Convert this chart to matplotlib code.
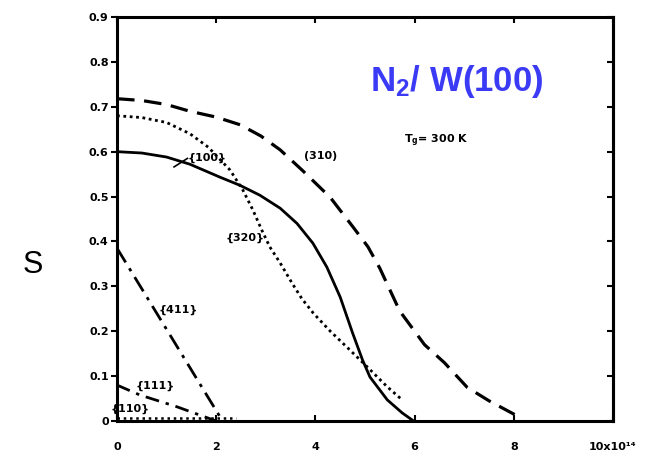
import matplotlib
matplotlib.use("Agg")
import matplotlib.pyplot as plt

plt.rcParams["mathtext.fontset"] = "custom"
plt.rcParams["mathtext.rm"] = "Liberation Sans:bold"
plt.rcParams["mathtext.default"] = "regular"

# Sticking coefficient S versus coverage for N2 on W(100) planes
x_100 = [0, 0.5, 1.0, 1.47, 2.08, 2.48, 2.88, 3.29, 3.63, 3.95, 4.23, 4.5, 4.75, 4.95, 5.1, 5.45, 5.75, 5.98]
s_100 = [0.600, 0.597, 0.588, 0.572, 0.543, 0.525, 0.503, 0.474, 0.44, 0.396, 0.343, 0.276, 0.196, 0.136, 0.098, 0.047, 0.018, 0.0]

x_310 = [0, 0.5, 1.0, 1.47, 2.0, 2.48, 2.9, 3.29, 3.75, 4.3, 4.76, 5.06, 5.3, 5.7, 6.2, 6.6, 7.06, 7.5, 8.04]
s_310 = [0.718, 0.714, 0.705, 0.69, 0.677, 0.66, 0.635, 0.604, 0.557, 0.498, 0.432, 0.388, 0.34, 0.245, 0.17, 0.13, 0.075, 0.045, 0.013]

x_320 = [0, 0.5, 1.0, 1.47, 1.84, 2.28, 2.54, 2.74, 2.92, 3.08, 3.29, 3.53, 3.73, 3.96, 4.3, 4.65, 5.05, 5.45, 5.75]
s_320 = [0.68, 0.676, 0.665, 0.64, 0.61, 0.559, 0.514, 0.47, 0.425, 0.388, 0.352, 0.307, 0.272, 0.24, 0.2, 0.163, 0.12, 0.076, 0.047]

x_411 = [0, 2.1]
s_411 = [0.385, 0.005]

x_111 = [0, 0.46, 1.2, 2.0]
s_111 = [0.08, 0.058, 0.032, 0.0]

x_110 = [0, 2.4]
s_110 = [0.007, 0.007]

x_ticks = [0, 2, 4, 6, 8, 10]
x_ticklabels = ["0", "2", "4", "6", "8", "10x10¹⁴"]
y_ticks = [0, 0.1, 0.2, 0.3, 0.4, 0.5, 0.6, 0.7, 0.8, 0.9]
y_ticklabels = ["0", "0.1", "0.2", "0.3", "0.4", "0.5", "0.6", "0.7", "0.8", "0.9"]

fig = plt.figure(figsize=(6.56, 4.58), dpi=100)
ax = fig.add_axes([117 / 656, 1 - 421 / 458, (613 - 117) / 656, (421 - 17) / 458])

ax.plot(x_100, s_100, color="black", lw=2.0, solid_capstyle="round", solid_joinstyle="round")
ax.plot(x_310, s_310, color="black", lw=2.3, linestyle=(0, (5.5, 3)))
ax.plot(x_320, s_320, color="black", lw=2.0, linestyle=(0, (1, 1.3)))
ax.plot(x_411, s_411, color="black", lw=2.0, linestyle=(0, (6, 2.5, 1.2, 2.5)))
ax.plot(x_111, s_111, color="black", lw=2.0, linestyle=(0, (5, 2.5, 1.2, 2.5)))
ax.plot(x_110, s_110, color="black", lw=1.8, linestyle=(0, (1, 1.5)))

# leader from the {100} label to its curve
ax.plot([1.15, 1.42], [0.566, 0.585], color="black", lw=1.2)

lab = dict(fontsize=8, fontweight="bold", color="black", ha="center", va="center")
ax.text(1.82, 0.587, "{100}", **lab)
ax.text(4.1, 0.59, "(310)", **lab)
ax.text(2.59, 0.407, "{320}", **lab)
ax.text(1.23, 0.247, "{411}", **lab)
ax.text(0.77, 0.078, "{111}", **lab)
ax.text(0.26, 0.026, "{110}", **lab)
ax.text(5.78, 0.625, "T$_g$= 300 K", fontsize=8, fontweight="bold", ha="left", va="center")

ax.text(6.85, 0.757, "N$_2$/ W(100)", fontsize=25, fontweight="bold",
        color="#3b3bf5", ha="center", va="center", family="Liberation Sans")
fig.text(33 / 656, 1 - 265 / 458, "S", fontsize=22, ha="center", va="center",
         family="Liberation Sans")

ax.set_xlim(0, 10)
ax.set_ylim(0, 0.9)
ax.set_xticks(x_ticks)
ax.set_xticklabels(x_ticklabels, fontsize=8, fontweight="bold")
ax.set_yticks(y_ticks)
ax.set_yticklabels(y_ticklabels, fontsize=8, fontweight="bold")
ax.tick_params(axis="y", direction="out", length=4, width=1.5, left=True, right=False, pad=2)
ax.tick_params(axis="x", direction="in", length=4, width=1.5, top=True, bottom=True, pad=15)

# inward ticks on the right-hand frame edge
right = ax.secondary_yaxis("right")
right.set_yticks(y_ticks)
right.tick_params(direction="in", length=4, width=1.5, labelright=False)
right.spines["right"].set_linewidth(2.2)

for sp in ax.spines.values():
    sp.set_linewidth(2.2)
    sp.set_color("black")

fig.savefig("out.png", dpi=100)
